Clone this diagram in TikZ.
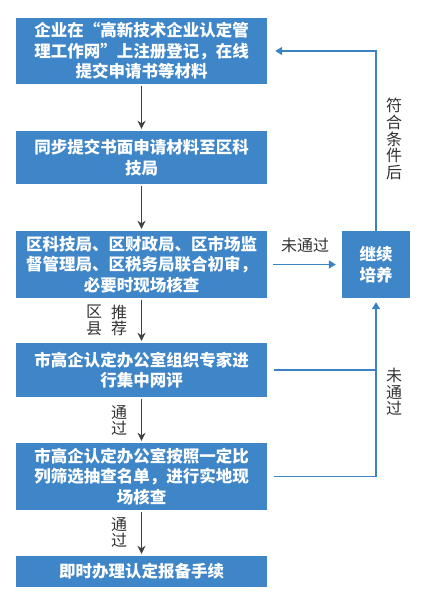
\documentclass[tikz,border=0pt]{standalone}
\usepackage{fontspec}
\setmainfont{Noto Sans CJK SC}
\usetikzlibrary{arrows.meta}
\definecolor{boxblue}{HTML}{3F86C8}
\definecolor{lineblue}{HTML}{3B82C4}
\definecolor{arrowgray}{HTML}{404040}
\definecolor{labelgray}{HTML}{333333}

\begin{document}
\begin{tikzpicture}[x=1pt, y=-1pt]
        \tikzset{step box/.style={rectangle, fill=boxblue, text=white, inner sep=0pt,
                    minimum width=251pt, text width=240pt, align=center,
                    font=\fontsize{16.5}{20.5}\selectfont\bfseries},
                 side box/.style={step box, minimum width=68pt, text width=60pt},
                 vector/.style={-{Stealth[length=8pt, width=8pt]}, line width=1.6pt, arrowgray,
                    shorten <=2pt, shorten >=2pt},
                 back/.style={line width=1.6pt, lineblue},
                 back vector/.style={back, -{Triangle[length=7pt, width=8pt]}},
                 tag/.style={text=labelgray, inner sep=0pt, align=center,
                    font=\fontsize{16}{16.7}\selectfont}}
        \useasboundingbox (0,0) rectangle (423,607);
        % main column
        \node[step box, minimum height=66pt] (reg) at (141.5,51)
            {企业在“高新技术企业认定管\\理工作网”上注册登记，在线\\提交申请书等材料};
        \node[step box, minimum height=53pt] (paper) at (141.5,157.5)
            {同步提交书面申请材料至区科\\技局};
        \node[step box, minimum height=67pt] (first) at (141.5,264.5)
            {区科技局、区财政局、区市场监\\督管理局、区税务局联合初审，\\必要时现场核查};
        \node[step box, minimum height=54pt] (expert) at (141.5,370)
            {市高企认定办公室组织专家进\\行集中网评};
        \node[step box, minimum height=67pt] (site) at (141.5,476.5)
            {市高企认定办公室按照一定比\\列筛选抽查名单，进行实地现\\场核查};
        \node[step box, minimum height=31pt] (file) at (141.5,571.5)
            {即时办理认定报备手续};
        \node[side box, minimum height=67pt] (train) at (376,264.5) {继续\\培养};
        \draw[vector] (reg) -- (paper);
        \draw[vector] (paper) -- (first);
        \draw[vector] (first) -- (expert);
        \draw[vector] (expert) -- (site);
        \draw[vector] (site) -- (file);
        % feedback loop
        \draw[back vector, shorten <=6pt, shorten >=6pt] (first.east) -- (train.west);
        \draw[back vector] (train.north) -- (train.north |- reg.east) -- ([xshift=8pt]reg.east);
        \draw[back] ([xshift=7pt]expert.east) -- (train.south |- expert.east);
        \draw[back vector, shorten >=4pt] ([xshift=7pt]site.east) -- (train.south |- site.east) -- (train.south);
        % labels
        \node[tag] (nopass1) at (305,245) {未通过};
        \node[tag] (county) at (94,320.5) {区\\县};
        \node[tag] (recommend) at (119,320.5) {推\\荐};
        \node[tag] (pass1) at (119,420.5) {通\\过};
        \node[tag] (pass2) at (119,532.5) {通\\过};
        \node[tag] (meet) at (394,139) {符\\合\\条\\件\\后};
        \node[tag] (nopass2) at (394,392) {未\\通\\过};
    \end{tikzpicture}
\end{document}
